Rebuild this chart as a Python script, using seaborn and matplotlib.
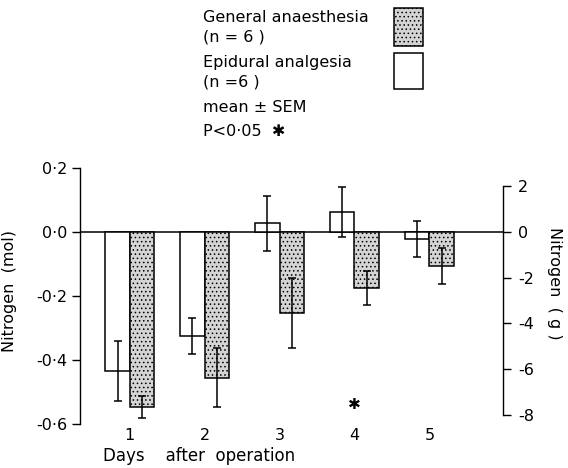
import seaborn as sns
import pandas as pd
import matplotlib.pyplot as plt
from matplotlib.patches import Rectangle

# Данные: азотный баланс (моль), среднее и SEM по дням
days = ['1', '2', '3', '4', '5']
epidural_mean = [-0.435, -0.325, 0.028, 0.063, -0.022]
epidural_sem = [0.093, 0.055, 0.086, 0.078, 0.057]
general_mean = [-0.547, -0.456, -0.253, -0.175, -0.106]
general_sem = [0.035, 0.092, 0.110, 0.052, 0.056]
groups = ['Epidural analgesia', 'General anaesthesia']
sig_day = '4'
sig_y = -0.54

left_ticks = [0.2, 0.0, -0.2, -0.4, -0.6]
left_labels = ['0·2', '0·0', '-0·2', '-0·4', '-0·6']
right_ticks = [2, 0, -2, -4, -6, -8]
right_labels = ['2', '0', '-2', '-4', '-6', '-8']
g_per_mol = 14

df = pd.DataFrame({
    'day': days * 2,
    'group': [groups[0]] * 5 + [groups[1]] * 5,
    'nitrogen': epidural_mean + general_mean,
})
sems = [epidural_sem, general_sem]

sns.set_style('white')
plt.rcParams['font.family'] = ['DejaVu Sans']
plt.rcParams['text.color'] = 'black'
plt.rcParams['axes.labelcolor'] = 'black'
plt.rcParams['xtick.color'] = 'black'
plt.rcParams['ytick.color'] = 'black'
plt.rcParams['hatch.color'] = '#707070'
plt.rcParams['hatch.linewidth'] = 0.6
fs = 11.5

fig = plt.figure(figsize=(5.68, 4.68), dpi=100)
ax = fig.add_axes([80 / 568, 1 - 424 / 468, 423 / 568, 256 / 468])

sns.barplot(data=df, x='day', y='nitrogen', hue='group', hue_order=groups,
            order=days, width=0.654, errorbar=None, legend=False, ax=ax,
            palette=['white', '#d4d4d4'], edgecolor='black', linewidth=1.1,
            saturation=1)

# штриховка для общей анестезии + SEM
for i, (container, err) in enumerate(zip(ax.containers, sems)):
    for bar, e in zip(container, err):
        if i == 1:
            bar.set_hatch('....')
        xc = bar.get_x() + bar.get_width() / 2
        ax.errorbar(xc, bar.get_y() + bar.get_height(), yerr=e,
                    color='black', lw=1.1, capsize=3, capthick=1.1)

ax.axhline(0, color='black', lw=1.1, zorder=0)
ax.text(days.index(sig_day), sig_y, '✱', ha='center', va='center', fontsize=11)

ax.set_xlim(-0.665, 4.983)
ax.set_ylim(-0.6, 0.2)
ax.set_yticks(left_ticks)
ax.set_yticklabels(left_labels, fontsize=fs)
ax.tick_params(axis='y', direction='out', length=6, width=1.0, left=True, pad=3)
ax.tick_params(axis='x', length=0, labelsize=fs, pad=3)
for s in ['top', 'bottom', 'right']:
    ax.spines[s].set_visible(False)
ax.spines['left'].set_linewidth(1.0)
ax.spines['left'].set_color('black')
ax.set_ylabel('Nitrogen  (mol)', fontsize=fs)
ax.yaxis.set_label_coords(-0.15, 0.52)
ax.set_xlabel('Days    after  operation', fontsize=12)
ax.xaxis.set_label_coords(0.281, -0.09)

# правая ось в граммах
ax2 = ax.twinx()
ax2.set_ylim(-0.6 * g_per_mol, 0.2 * g_per_mol)
ax2.set_yticks(right_ticks)
ax2.set_yticklabels(right_labels, fontsize=fs)
ax2.tick_params(axis='y', direction='out', length=6, width=1.0, right=True, pad=5)
for s in ['top', 'bottom', 'left']:
    ax2.spines[s].set_visible(False)
ax2.spines['right'].set_bounds(-8, 2)
ax2.spines['right'].set_linewidth(1.0)
ax2.spines['right'].set_color('black')
ax2.set_ylabel('Nitrogen  ( g )', fontsize=fs, rotation=270)
ax2.yaxis.set_label_coords(1.14, 0.55)

# легенда вручную
lines = ['General anaesthesia', '(n = 6 )', 'Epidural analgesia', '(n =6 )',
         'mean ± SEM', 'P<0·05  ✱']
ys = [18, 37, 63, 82, 107, 132]
for t, y in zip(lines, ys):
    fig.text(203 / 568, 1 - y / 468, t, ha='left', va='center', fontsize=fs)
fig.patches.append(Rectangle((394 / 568, 1 - 46 / 468), 29 / 568, 38 / 468,
                             transform=fig.transFigure, facecolor='#d4d4d4',
                             edgecolor='black', lw=1.1, hatch='....'))
fig.patches.append(Rectangle((394 / 568, 1 - 89 / 468), 29 / 568, 36 / 468,
                             transform=fig.transFigure, facecolor='white',
                             edgecolor='black', lw=1.1))

fig.savefig('out.png', dpi=100)
